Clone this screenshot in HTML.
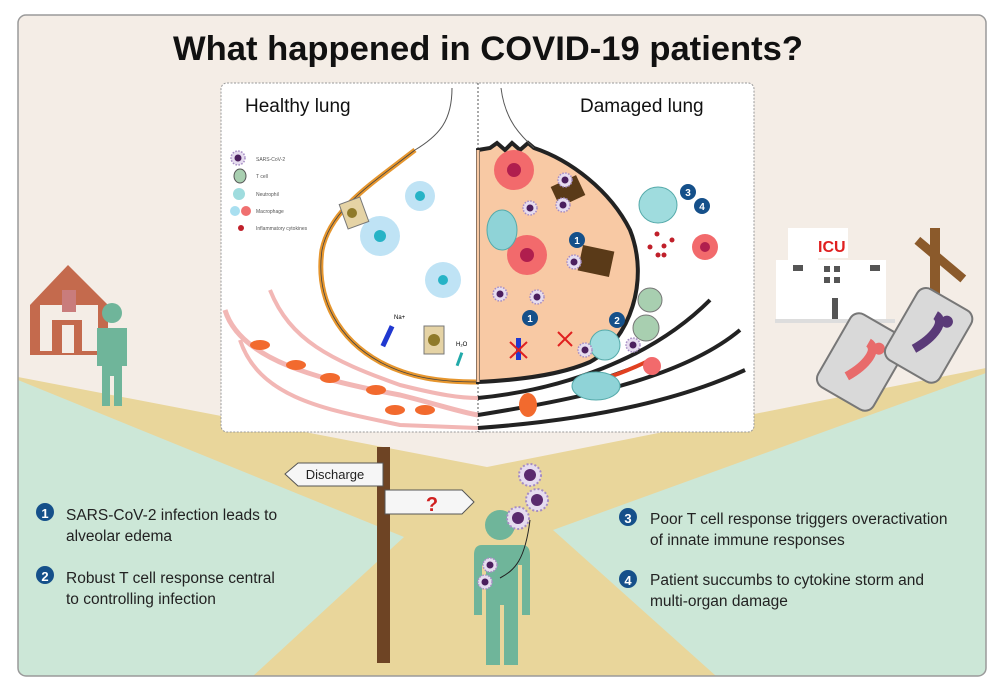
<!DOCTYPE html>
<html><head><meta charset="utf-8"><style>
html,body{margin:0;padding:0;background:#fff;width:1000px;height:689px;overflow:hidden}
svg{display:block}
text{font-family:"Liberation Sans",Arial,sans-serif}
</style></head><body>
<svg width="1000" height="689" viewBox="0 0 1000 689" xmlns="http://www.w3.org/2000/svg">
<defs>
<clipPath id="fr"><rect x="18" y="15" width="968" height="661" rx="8"/></clipPath>
<g id="vir"><circle r="11" fill="#e6dcef" stroke="#a58cc4" stroke-width="2" stroke-dasharray="2 2"/><circle r="6" fill="#5a2a6e"/></g>
<g id="vs"><circle r="7" fill="#e6dcef" stroke="#a58cc4" stroke-width="1.5" stroke-dasharray="1.5 1.5"/><circle r="3.5" fill="#4b1f5e"/></g>
</defs>
<g clip-path="url(#fr)">
<rect x="18" y="15" width="968" height="661" fill="#f4ede6"/>
<polygon points="18,377 487,467 986,368 986,676 18,676" fill="#e9d69b"/>
<polygon points="18,380 404,537 253,676 18,676" fill="#cce7d7"/>
<polygon points="986,373 553,530 716,676 986,676" fill="#cce7d7"/>
</g>
<rect x="18" y="15" width="968" height="661" rx="8" fill="none" stroke="#9a9a9a" stroke-width="1.5"/>
<text x="173" y="60" font-size="34" font-weight="bold" fill="#111" textLength="630" lengthAdjust="spacingAndGlyphs">What happened in COVID-19 patients?</text>

<!-- lung panel -->
<rect x="221" y="83" width="533" height="349" rx="6" fill="#fff" stroke="#999" stroke-dasharray="2 1.5"/>
<line x1="478" y1="83" x2="478" y2="432" stroke="#555" stroke-dasharray="2 2"/>
<text x="245" y="112" font-size="19" fill="#111">Healthy lung</text>
<text x="580" y="112" font-size="19" fill="#111">Damaged lung</text>
<!-- healthy alveolus -->
<path d="M452 88 C452 120 440 135 415 150" fill="none" stroke="#555" stroke-width="1"/>
<path d="M415 150 C370 185 330 210 322 250 C315 300 340 340 380 362 C410 378 440 382 478 382" fill="none" stroke="#e6962e" stroke-width="5"/>
<path d="M415 150 C370 185 330 210 322 250 C315 300 340 340 380 362 C410 378 440 382 478 382" fill="none" stroke="#444" stroke-width="0.8"/>
<!-- damaged alveolus -->
<path d="M478 150 L490 148 L497 143 L505 150 L512 143 L520 150 L528 143 L534 148 C570 160 610 190 630 230 C650 280 630 340 590 362 C560 375 520 380 478 382 Z" fill="#f8c9a4" stroke="#222" stroke-width="4"/>
<path d="M478 150 L478 382" stroke="#f8c9a4" stroke-width="3"/>
<path d="M501 88 C505 120 520 135 534 148" fill="none" stroke="#555"/>
<!-- vessels healthy -->
<path d="M225 310 C240 360 320 380 400 395 C440 405 460 412 478 415" fill="none" stroke="#f2b7b5" stroke-width="5"/>
<path d="M270 290 C290 340 330 360 400 385 C440 395 460 398 478 398" fill="none" stroke="#f2b7b5" stroke-width="4"/>
<path d="M240 340 C260 400 330 410 400 425 L478 428" fill="none" stroke="#f2b7b5" stroke-width="4"/>
<g fill="#f26a2e"><ellipse cx="260" cy="345" rx="10" ry="5"/><ellipse cx="296" cy="365" rx="10" ry="5"/><ellipse cx="330" cy="378" rx="10" ry="5"/><ellipse cx="376" cy="390" rx="10" ry="5"/><ellipse cx="395" cy="410" rx="10" ry="5"/><ellipse cx="425" cy="410" rx="10" ry="5"/></g>
<!-- vessels damaged -->
<path d="M478 398 C560 390 650 360 710 300" fill="none" stroke="#222" stroke-width="4"/>
<path d="M478 415 C570 400 680 380 740 330" fill="none" stroke="#222" stroke-width="4"/>
<path d="M478 428 C590 420 680 400 745 370" fill="none" stroke="#222" stroke-width="4"/>
<path d="M580 385 C610 378 630 370 650 360" stroke="#e04020" stroke-width="4"/>
<ellipse cx="528" cy="405" rx="9" ry="12" fill="#f26a2e"/>
<ellipse cx="596" cy="386" rx="24" ry="14" fill="#8fd3d7" stroke="#5aa"/>
<!-- legend -->
<use href="#vs" x="238" y="158"/><text x="256" y="161" font-size="5" fill="#555">SARS-CoV-2</text>
<ellipse cx="240" cy="176" rx="6" ry="7" fill="#a8cfb0" stroke="#555"/><text x="256" y="178" font-size="5" fill="#555">T cell</text>
<circle cx="239" cy="194" r="6" fill="#9fdcde"/><text x="256" y="196" font-size="5" fill="#555">Neutrophil</text>
<circle cx="235" cy="211" r="5" fill="#a9dff0"/><circle cx="246" cy="211" r="5" fill="#f07070"/><text x="256" y="213" font-size="5" fill="#555">Macrophage</text>
<circle cx="241" cy="228" r="3" fill="#c0202a"/><text x="256" y="230" font-size="5" fill="#555">Inflammatory cytokines</text>
<!-- healthy cells -->
<g fill="#bfe3f5"><circle cx="420" cy="196" r="15"/><circle cx="380" cy="236" r="20"/><circle cx="443" cy="280" r="18"/></g>
<g fill="#26b3c6"><circle cx="420" cy="196" r="5"/><circle cx="380" cy="236" r="6"/><circle cx="443" cy="280" r="5"/></g>
<rect x="343" y="200" width="22" height="26" fill="#e5d3a5" stroke="#777" transform="rotate(-20 354 213)"/><circle cx="352" cy="213" r="5" fill="#8f7a2a"/>
<rect x="424" y="326" width="20" height="28" fill="#e5d3a5" stroke="#777"/><circle cx="434" cy="340" r="6" fill="#8f7a2a"/>
<rect x="385" y="325" width="5" height="22" fill="#2038d0" transform="rotate(25 387 336)"/>
<text x="394" y="319" font-size="6">Na+</text><text x="456" y="346" font-size="6">H₂O</text>
<rect x="458" y="352" width="3" height="14" fill="#2aa" transform="rotate(20 459 359)"/>
<!-- damaged cells -->
<g fill="#f26a6c"><circle cx="514" cy="170" r="20"/><circle cx="527" cy="255" r="20"/><circle cx="705" cy="247" r="13"/><circle cx="652" cy="366" r="9"/></g>
<g fill="#b01e4e"><circle cx="514" cy="170" r="7"/><circle cx="527" cy="255" r="7"/><circle cx="705" cy="247" r="5"/></g>
<ellipse cx="502" cy="230" rx="15" ry="20" fill="#8fd3d7" stroke="#5aa"/>
<ellipse cx="658" cy="205" rx="19" ry="18" fill="#9fdcde" stroke="#5aa"/>
<ellipse cx="605" cy="345" rx="15" ry="15" fill="#9fdcde" stroke="#5aa"/>
<circle cx="650" cy="300" r="12" fill="#a8cfb0" stroke="#777"/><circle cx="646" cy="328" r="13" fill="#a8cfb0" stroke="#777"/>
<rect x="554" y="180" width="28" height="22" fill="#5a3a18" transform="rotate(-25 568 191)"/>
<rect x="580" y="248" width="32" height="26" fill="#5a3a18" transform="rotate(12 596 261)"/>
<use href="#vs" x="565" y="180"/><use href="#vs" x="530" y="208"/><use href="#vs" x="563" y="205"/><use href="#vs" x="574" y="262"/><use href="#vs" x="500" y="294"/><use href="#vs" x="537" y="297"/><use href="#vs" x="585" y="350"/><use href="#vs" x="633" y="345"/>
<g fill="#c0202a"><circle cx="657" cy="234" r="2.5"/><circle cx="672" cy="240" r="2.5"/><circle cx="664" cy="246" r="2.5"/><circle cx="650" cy="247" r="2.5"/><circle cx="658" cy="255" r="2.5"/><circle cx="664" cy="255" r="2.5"/></g>
<g font-size="10" font-weight="bold" fill="#fff" text-anchor="middle">
<circle cx="577" cy="240" r="8" fill="#15508a"/><text x="577" y="244">1</text>
<circle cx="530" cy="318" r="8" fill="#15508a"/><text x="530" y="322">1</text>
<circle cx="617" cy="320" r="8" fill="#15508a"/><text x="617" y="324">2</text>
<circle cx="688" cy="192" r="8" fill="#15508a"/><text x="688" y="196">3</text>
<circle cx="702" cy="206" r="8" fill="#15508a"/><text x="702" y="210">4</text>
</g>
<rect x="516" y="338" width="5" height="22" fill="#2038d0"/><path d="M510 342 L527 358 M527 342 L510 358" stroke="#e02020" stroke-width="2"/>
<path d="M558 332 L572 346 M572 332 L558 346" stroke="#e02020" stroke-width="2"/>

<!-- left house & person -->
<polygon points="30,305 68,265 108,305 108,355 30,355" fill="#c46a4d"/>
<rect x="40" y="305" width="58" height="46" fill="#f4ede6"/>
<rect x="62" y="290" width="14" height="22" fill="#c97c7c"/>
<rect x="52" y="320" width="30" height="35" fill="#c46a4d"/><rect x="62" y="325" width="12" height="28" fill="#f4ede6"/>
<circle cx="112" cy="313" r="10" fill="#6fb59a"/>
<path d="M97 328 h30 v38 h-5 v40 h-8 v-30 h-4 v30 h-8 v-40 h-5 z" fill="#6fb59a"/>
<!-- right ICU -->
<rect x="788" y="228" width="30" height="92" fill="#fff"/>
<rect x="776" y="260" width="110" height="60" fill="#fff"/>
<rect x="816" y="228" width="32" height="30" fill="#fff"/>
<text x="818" y="252" font-size="16" font-weight="bold" fill="#e02020">ICU</text>
<g fill="#555"><rect x="793" y="265" width="10" height="6"/><rect x="870" y="265" width="10" height="6"/><rect x="824" y="266" width="6" height="6"/><rect x="834" y="266" width="6" height="6"/><rect x="824" y="277" width="6" height="6"/><rect x="834" y="277" width="6" height="6"/><rect x="832" y="298" width="6" height="22"/></g>
<rect x="775" y="319" width="120" height="4" fill="#ddd"/>
<rect x="930" y="228" width="10" height="95" fill="#8b5a2b"/>
<rect x="910" y="255" width="60" height="9" fill="#8b5a2b" transform="rotate(40 940 260)"/>
<g transform="rotate(30 862 362)"><rect x="830" y="320" width="64" height="84" rx="10" fill="#d9d9d9" stroke="#777" stroke-width="2"/><path d="M858 342 c12 0 10 20 -2 40" stroke="#e86b6b" stroke-width="9" fill="none"/><circle cx="870" cy="342" r="6" fill="#e86b6b"/></g>
<g transform="rotate(30 930 335)"><rect x="898" y="295" width="62" height="82" rx="10" fill="#d9d9d9" stroke="#777" stroke-width="2"/><path d="M925 315 c12 0 10 20 -2 40" stroke="#5a3a78" stroke-width="9" fill="none"/><circle cx="938" cy="315" r="6" fill="#5a3a78"/></g>

<!-- signpost -->
<rect x="377" y="447" width="13" height="216" fill="#6e4424"/>
<polygon points="298,463 383,463 383,486 298,486 285,474" fill="#f6f6f6" stroke="#555"/>
<text x="335" y="479" font-size="13" text-anchor="middle" fill="#222">Discharge</text>
<polygon points="385,490 462,490 474,502 462,514 385,514" fill="#f6f6f6" stroke="#555"/>
<text x="432" y="511" font-size="20" font-weight="bold" fill="#d02020" text-anchor="middle">?</text>
<!-- center person -->
<circle cx="500" cy="525" r="15" fill="#6fb59a"/>
<path d="M472 545 h50 c6 0 8 4 8 10 v60 h-8 v-50 h-4 v100 h-14 v-60 h-4 v60 h-14 v-100 h-4 v50 h-8 v-60 c0 -6 2 -10 8 -10 z" fill="#6fb59a"/>
<use href="#vir" x="530" y="475"/><use href="#vir" x="537" y="500"/><use href="#vir" x="518" y="518"/>
<use href="#vs" x="490" y="565"/><use href="#vs" x="485" y="582"/>
<path d="M530 520 C525 560 515 570 500 578" fill="none" stroke="#222"/>

<!-- texts -->
<g font-size="15.5" fill="#222">
<circle cx="45" cy="512" r="9" fill="#15508a"/><text x="45" y="518" font-size="13" font-weight="bold" fill="#fff" text-anchor="middle">1</text>
<text x="66" y="520">SARS-CoV-2 infection leads to</text><text x="66" y="541">alveolar edema</text>
<circle cx="45" cy="575" r="9" fill="#15508a"/><text x="45" y="581" font-size="13" font-weight="bold" fill="#fff" text-anchor="middle">2</text>
<text x="66" y="583">Robust T cell response central</text><text x="66" y="604">to controlling infection</text>
<circle cx="628" cy="517" r="9" fill="#15508a"/><text x="628" y="523" font-size="13" font-weight="bold" fill="#fff" text-anchor="middle">3</text>
<text x="650" y="524">Poor T cell response triggers overactivation</text><text x="650" y="545">of innate immune responses</text>
<circle cx="628" cy="579" r="9" fill="#15508a"/><text x="628" y="585" font-size="13" font-weight="bold" fill="#fff" text-anchor="middle">4</text>
<text x="650" y="585">Patient succumbs to cytokine storm and</text><text x="650" y="606">multi-organ damage</text>
</g>
</svg>
</body></html>
